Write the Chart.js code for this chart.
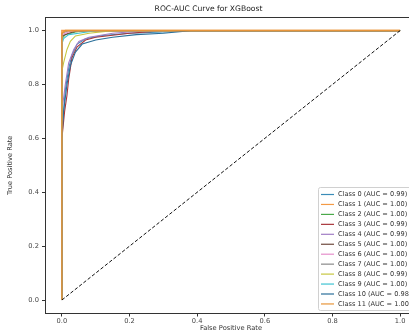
<!DOCTYPE html>
<html>
<head>
<meta charset="utf-8">
<script src="https://cdn.jsdelivr.net/npm/chart.js@4.4.1/dist/chart.umd.min.js"></script>
<style>
  html, body { margin: 0; padding: 0; background: #fff; overflow: hidden; }
  #wrap { width: 430px; height: 333px; position: relative; }
</style>
</head>
<body>
<div id="wrap"><canvas id="rocChart"></canvas></div>
<script>
// roc curves (fpr / tpr per class)
const classNames = ['Class 0', 'Class 1', 'Class 2', 'Class 3', 'Class 4', 'Class 5',
                    'Class 6', 'Class 7', 'Class 8', 'Class 9', 'Class 10', 'Class 11'];
const aucValues = ['0.99', '1.00', '1.00', '0.99', '0.99', '1.00',
                   '1.00', '1.00', '0.99', '1.00', '0.98', '1.00'];

const fpr0 = [0, 0, 0.005, 0.01, 0.02, 0.03, 0.045, 0.07, 0.12, 0.2, 0.3, 0.38, 1];
const tpr0 = [0, 0.62, 0.7, 0.78, 0.86, 0.91, 0.95, 0.97, 0.982, 0.99, 0.995, 1, 1];
const fpr1 = [0, 0, 0.66, 1];
const tpr1 = [0, 1, 1, 1];
const fpr2 = [0, 0, 0.01, 0.04, 0.08, 1];
const tpr2 = [0, 0.97, 0.985, 0.995, 1, 1];
const fpr3 = [0, 0, 0.008, 0.015, 0.02, 0.03, 0.045, 0.07, 0.1, 0.2, 0.3, 1];
const tpr3 = [0, 0.6, 0.7, 0.76, 0.82, 0.9, 0.94, 0.965, 0.975, 0.99, 1, 1];
const fpr4 = [0, 0, 0.01, 0.02, 0.035, 0.05, 0.08, 0.15, 0.25, 1];
const tpr4 = [0, 0.7, 0.8, 0.88, 0.93, 0.96, 0.975, 0.99, 1, 1];
const fpr5 = [0, 0, 0.02, 0.05, 1];
const tpr5 = [0, 0.98, 0.99, 1, 1];
const fpr6 = [0, 0, 0.03, 1];
const tpr6 = [0, 0.985, 1, 1];
const fpr7 = [0, 0, 0.02, 1];
const tpr7 = [0, 0.99, 1, 1];
const fpr8 = [0, 0, 0.005, 0.015, 0.025, 0.04, 0.08, 0.15, 1];
const tpr8 = [0, 0.85, 0.88, 0.93, 0.96, 0.98, 0.99, 1, 1];
const fpr9 = [0, 0, 0.005, 0.02, 0.05, 0.1, 1];
const tpr9 = [0, 0.95, 0.97, 0.985, 0.99, 1, 1];
const fpr10 = [0, 0, 0.005, 0.015, 0.025, 0.04, 0.06, 0.1, 0.15, 0.22, 0.3, 0.38, 1];
const tpr10 = [0, 0.6, 0.7, 0.8, 0.87, 0.92, 0.95, 0.965, 0.975, 0.985, 0.99, 1, 1];
const fpr11 = [0, 0, 0.01, 1];
const tpr11 = [0, 0.99, 1, 1];

const fprList = [fpr0, fpr1, fpr2, fpr3, fpr4, fpr5, fpr6, fpr7, fpr8, fpr9, fpr10, fpr11];
const tprList = [tpr0, tpr1, tpr2, tpr3, tpr4, tpr5, tpr6, tpr7, tpr8, tpr9, tpr10, tpr11];

const chanceFpr = [0, 1];
const chanceTpr = [0, 1];

const tickValues = [0, 0.2, 0.4, 0.6, 0.8, 1.0];

const palette = ['#3a8cb8', '#f39a45', '#4aa94a', '#a8343a', '#a07cc4', '#6e4a3e',
                 '#e58fcb', '#8a8a8a', '#c6c640', '#3fc3d2', '#2a6f9a', '#e8953a'];

function toPoints(xs, ys) {
    return xs.map((x, i) => ({ x: x, y: ys[i] }));
}

const datasets = classNames.map((name, i) => ({
    label: name + ' (AUC = ' + aucValues[i] + ')',
    data: toPoints(fprList[i], tprList[i]),
    borderColor: palette[i],
    borderWidth: (i === 1 || i === 11) ? 1.6 : 1.1,
    pointRadius: 0,
    tension: 0,
    order: classNames.length - i + 1
}));

datasets.push({
    label: 'chance',
    data: toPoints(chanceFpr, chanceTpr),
    borderColor: '#111',
    borderWidth: 1,
    borderDash: [3.5, 2],
    pointRadius: 0,
    order: 0
});

// frame around the axes (matplotlib spines)
const framePlugin = {
    id: 'frame',
    afterDatasetsDraw(chart) {
        const a = chart.chartArea;
        const ctx = chart.ctx;
        ctx.save();
        ctx.strokeStyle = '#333';
        ctx.lineWidth = 1;
        ctx.strokeRect(Math.round(a.left) + 0.5, Math.round(a.top) + 0.5,
                       Math.round(a.right - a.left), Math.round(a.bottom - a.top));
        ctx.restore();
    }
};

// legend box in the lower right, like matplotlib's
const legendBoxPlugin = {
    id: 'legendBox',
    afterDraw(chart) {
        const ctx = chart.ctx;
        const sets = chart.data.datasets.filter(d => d.label !== 'chance');
        const x0 = 318, y0 = 187, w = 120, h = 123;
        const rowH = 9.95;
        ctx.save();
        ctx.fillStyle = 'rgba(255,255,255,0.85)';
        ctx.strokeStyle = '#d0d0d0';
        ctx.lineWidth = 1;
        ctx.beginPath();
        ctx.roundRect(x0 + 0.5, y0 + 0.5, w, h, 2);
        ctx.fill();
        ctx.stroke();
        ctx.font = '6.6px "DejaVu Sans"';
        ctx.textBaseline = 'middle';
        sets.forEach((d, i) => {
            const y = y0 + 7.5 + i * rowH;
            ctx.strokeStyle = d.borderColor;
            ctx.lineWidth = 1.2;
            ctx.beginPath();
            ctx.moveTo(321, y);
            ctx.lineTo(334, y);
            ctx.stroke();
            ctx.fillStyle = '#333';
            ctx.fillText(d.label, 338, y);
        });
        ctx.restore();
    }
};

const tickFont = { family: 'DejaVu Sans', size: 6.7 };

new Chart(document.getElementById('rocChart'), {
    type: 'line',
    data: { datasets: datasets },
    options: {
        responsive: true,
        maintainAspectRatio: false,
        animation: false,
        layout: { padding: { left: 0, right: 13, top: 0, bottom: 0 } },
        plugins: {
            legend: { display: false },
            tooltip: { enabled: false },
            title: {
                display: true,
                text: 'ROC-AUC Curve for XGBoost',
                color: '#222',
                font: { family: 'DejaVu Sans', size: 7.6, weight: 'normal' },
                padding: { top: 4, bottom: 4 }
            }
        },
        scales: {
            x: {
                type: 'linear',
                min: -0.05,
                max: 1.05,
                afterBuildTicks: s => { s.ticks = tickValues.map(v => ({ value: v })); },
                afterFit: s => { s.height = 19.5; },
                ticks: {
                    font: tickFont,
                    color: '#444',
                    padding: 1,
                    maxRotation: 0,
                    callback: v => v.toFixed(1)
                },
                grid: { drawOnChartArea: false, tickLength: 3, color: '#333' },
                border: { color: '#333' },
                title: {
                    display: true,
                    text: 'False Positive Rate',
                    color: '#333',
                    font: tickFont,
                    padding: { top: 0, bottom: 1 }
                }
            },
            y: {
                type: 'linear',
                min: -0.05,
                max: 1.05,
                afterBuildTicks: s => { s.ticks = tickValues.map(v => ({ value: v })); },
                afterFit: s => { s.width = 45; },
                ticks: {
                    font: tickFont,
                    color: '#444',
                    padding: 3,
                    callback: v => v.toFixed(1)
                },
                grid: { drawOnChartArea: false, tickLength: 3, color: '#333' },
                border: { color: '#333' },
                title: {
                    display: true,
                    text: 'True Positive Rate',
                    color: '#333',
                    font: tickFont,
                    padding: { top: 6, bottom: 0 }
                }
            }
        }
    },
    plugins: [framePlugin, legendBoxPlugin]
});
</script>
</body>
</html>
